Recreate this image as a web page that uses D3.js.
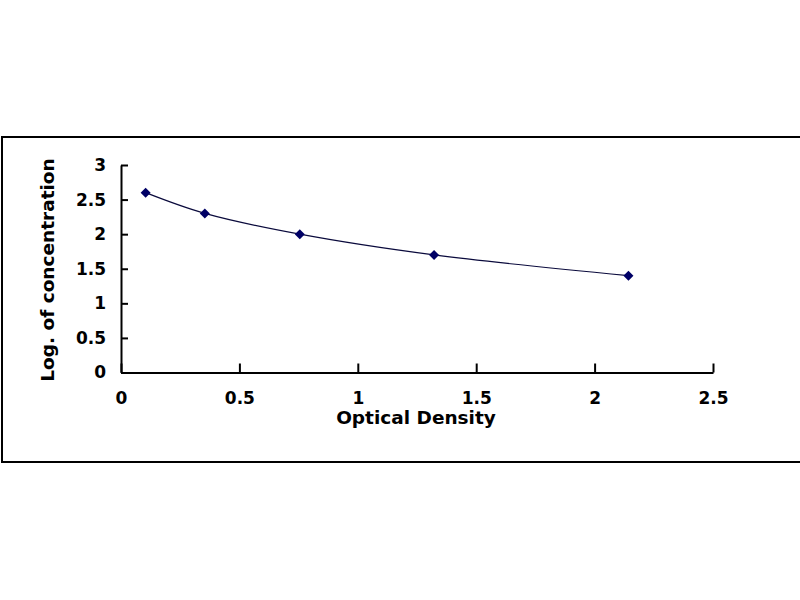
<!DOCTYPE html>
<html>
<head>
<meta charset="UTF-8">
<title>Standard curve</title>
<script src="https://d3js.org/d3.v7.min.js"></script>
<style>
  body { margin: 0; background: #fff; }
  svg { display: block; }
  .tick text { font-family: 'DejaVu Sans', sans-serif; font-weight: bold; font-size: 17px; fill: #000; }
  .axis-title { font-family: 'DejaVu Sans', sans-serif; font-weight: bold; font-size: 18.5px; fill: #000; }
</style>
</head>
<body>
<div id="chart"></div>
<script>
// data
const opticalDensity = [0.104, 0.354, 0.755, 1.322, 2.143];
const logConcentration = [2.6, 2.3, 2.0, 1.7, 1.4];
const xTicks = [0, 0.5, 1, 1.5, 2, 2.5];
const yTicks = [0, 0.5, 1, 1.5, 2, 2.5, 3];

const width = 800, height = 600;
const plotLeft = 121, plotRight = 713, plotTop = 165, plotBottom = 372.5;

const svg = d3.select("#chart").append("svg")
  .attr("width", width)
  .attr("height", height);

// outer frame (right edge runs off the picture)
svg.append("rect")
  .attr("x", 2).attr("y", 137)
  .attr("width", 810).attr("height", 325)
  .attr("fill", "none")
  .attr("stroke", "#000")
  .attr("stroke-width", 2);

const x = d3.scaleLinear().domain([0, 2.5]).range([plotLeft, plotRight]);
const y = d3.scaleLinear().domain([0, 3]).range([plotBottom, plotTop]);

// x axis, ticks point up into the plot
const xAxis = svg.append("g")
  .attr("transform", `translate(0,${plotBottom})`)
  .call(d3.axisBottom(x).tickValues(xTicks).tickSizeInner(-9).tickSizeOuter(0)
    .tickFormat(d3.format("")));
xAxis.select(".domain").attr("stroke-width", 2);
xAxis.selectAll(".tick line").attr("stroke-width", 2);
xAxis.selectAll(".tick text").attr("y", 0).attr("dy", 31.5);

// y axis, ticks point right into the plot
const yAxis = svg.append("g")
  .attr("transform", `translate(${plotLeft},0)`)
  .call(d3.axisLeft(y).tickValues(yTicks).tickSizeInner(-7).tickSizeOuter(0)
    .tickFormat(d3.format("")));
yAxis.select(".domain").attr("stroke-width", 2);
yAxis.selectAll(".tick line").attr("stroke-width", 2);
yAxis.selectAll(".tick text").attr("x", -15);

// axis titles
svg.append("text")
  .attr("class", "axis-title")
  .attr("x", 416).attr("y", 424)
  .attr("text-anchor", "middle")
  .text("Optical Density");

svg.append("text")
  .attr("class", "axis-title")
  .attr("transform", "translate(54,270) rotate(-90)")
  .attr("text-anchor", "middle")
  .text("Log. of concentration");

const points = opticalDensity.map((d, i) => [d, logConcentration[i]]);

// smoothed line through the points
const line = d3.line()
  .x(d => x(d[0]))
  .y(d => y(d[1]))
  .curve(d3.curveCatmullRom.alpha(0.5));

svg.append("path")
  .datum(points)
  .attr("fill", "none")
  .attr("stroke", "#0a0a3c")
  .attr("stroke-width", 1.2)
  .attr("d", line);

// diamond markers
svg.append("g")
  .selectAll("path")
  .data(points)
  .enter().append("path")
  .attr("transform", d => `translate(${x(d[0])},${y(d[1])})`)
  .attr("d", "M0,-5L5,0L0,5L-5,0Z")
  .attr("fill", "#000066");
</script>
</body>
</html>
